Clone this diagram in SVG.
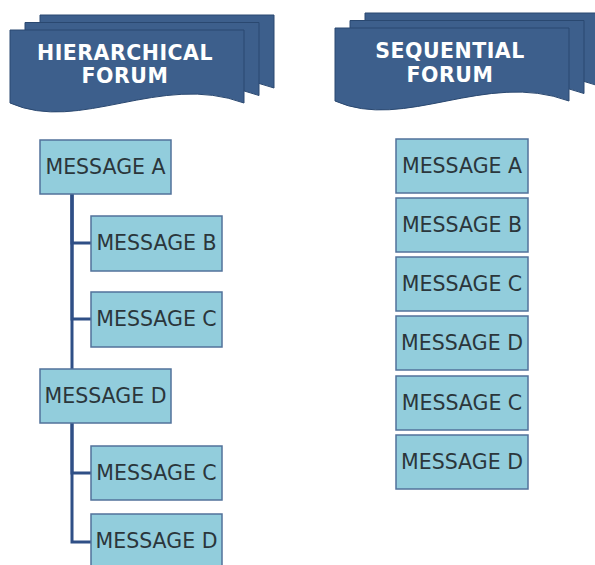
<svg xmlns="http://www.w3.org/2000/svg" width="595" height="565" viewBox="0 0 595 565">
<style>
.layer{fill:#3d5f8c;stroke:#2a4870;stroke-width:1}
.title{font-family:"DejaVu Sans",Verdana,sans-serif;font-weight:bold;font-size:20.5px;fill:#ffffff;text-anchor:middle;letter-spacing:0.5px}
.box{fill:#92cddc;stroke:#52729b;stroke-width:1.5}
.lbl{font-family:"DejaVu Sans",Verdana,sans-serif;font-size:20.5px;fill:#2b363b;text-anchor:middle}
.conn{fill:none;stroke:#2f4f86;stroke-width:3}
</style>
<defs>
<path id="doc" d="M0,0 H234 V73 C150,42 70,104 0,73 Z"/>
</defs>
<rect width="595" height="565" fill="#ffffff"/>
<g id="banner-hierarchical">
<use href="#doc" class="layer" transform="translate(40,15)"/>
<use href="#doc" class="layer" transform="translate(25,22.5)"/>
<use href="#doc" class="layer" transform="translate(10,30)"/>
<text class="title" x="125" y="60">HIERARCHICAL</text>
<text class="title" x="125" y="83">FORUM</text>
</g>
<g id="banner-sequential">
<use href="#doc" class="layer" transform="translate(365,13)"/>
<use href="#doc" class="layer" transform="translate(350,20.5)"/>
<use href="#doc" class="layer" transform="translate(335,28)"/>
<text class="title" x="450" y="58">SEQUENTIAL</text>
<text class="title" x="450" y="82">FORUM</text>
</g>
<g id="connectors">
<path class="conn" d="M72,194 V243 H91"/>
<path class="conn" d="M72,194 V319 H91"/>
<path class="conn" d="M72,194 V369"/>
<path class="conn" d="M72,423 V473 H91"/>
<path class="conn" d="M72,423 V542 H91"/>
</g>
<g id="h-msg-a"><rect class="box" x="40" y="140" width="131" height="54"/><text class="lbl" x="105.5" y="174">MESSAGE A</text></g>
<g id="h-msg-b"><rect class="box" x="91" y="216" width="131" height="55"/><text class="lbl" x="156.5" y="250">MESSAGE B</text></g>
<g id="h-msg-c"><rect class="box" x="91" y="292" width="131" height="55"/><text class="lbl" x="156.5" y="326">MESSAGE C</text></g>
<g id="h-msg-d"><rect class="box" x="40" y="369" width="131" height="54"/><text class="lbl" x="105.5" y="403">MESSAGE D</text></g>
<g id="h-msg-c2"><rect class="box" x="91" y="446" width="131" height="54"/><text class="lbl" x="156.5" y="480">MESSAGE C</text></g>
<g id="h-msg-d2"><rect class="box" x="91" y="514" width="131" height="54"/><text class="lbl" x="156.5" y="548">MESSAGE D</text></g>
<g id="s-msg-a"><rect class="box" x="396" y="139" width="132" height="54"/><text class="lbl" x="462" y="173">MESSAGE A</text></g>
<g id="s-msg-b"><rect class="box" x="396" y="198" width="132" height="54"/><text class="lbl" x="462" y="232">MESSAGE B</text></g>
<g id="s-msg-c"><rect class="box" x="396" y="257" width="132" height="54"/><text class="lbl" x="462" y="291">MESSAGE C</text></g>
<g id="s-msg-d"><rect class="box" x="396" y="316" width="132" height="54"/><text class="lbl" x="462" y="350">MESSAGE D</text></g>
<g id="s-msg-c2"><rect class="box" x="396" y="376" width="132" height="54"/><text class="lbl" x="462" y="410">MESSAGE C</text></g>
<g id="s-msg-d2"><rect class="box" x="396" y="435" width="132" height="54"/><text class="lbl" x="462" y="469">MESSAGE D</text></g>
</svg>
